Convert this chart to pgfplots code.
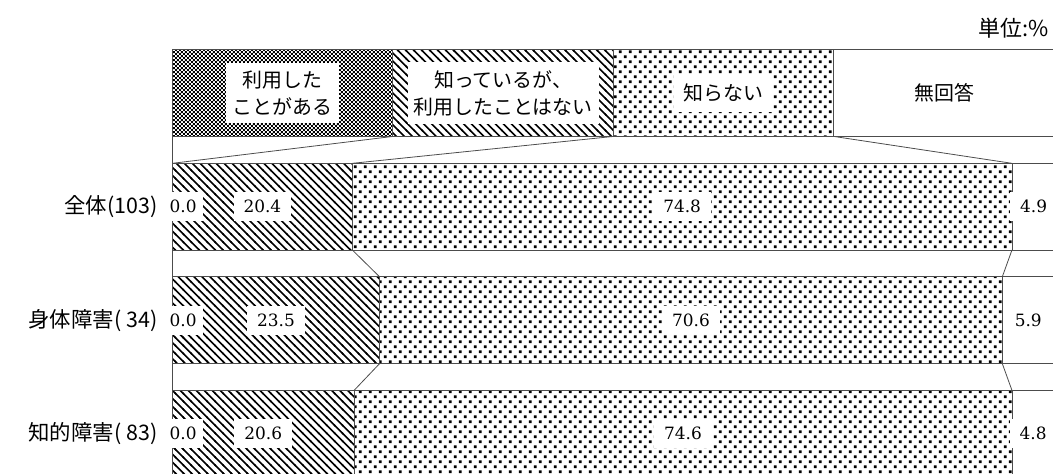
\documentclass[border=0pt]{standalone}
\usepackage{fontspec}
\setmainfont{DejaVu Serif}
\newfontfamily\jp{Noto Sans CJK JP}
\usepackage{pgfplots}
\pgfplotsset{compat=1.18}
\usepackage{pgfplotstable}
\usetikzlibrary{patterns}

\pgfdeclarepatternformonly{checker}{\pgfpointorigin}{\pgfpoint{4pt}{4pt}}{\pgfpoint{4pt}{4pt}}{%
  \pgfpathrectangle{\pgfpointorigin}{\pgfpoint{2pt}{2pt}}%
  \pgfpathrectangle{\pgfpoint{2pt}{2pt}}{\pgfpoint{2pt}{2pt}}%
  \pgfusepath{fill}}
\pgfdeclarepatternformonly{nwlines}{\pgfpoint{-1pt}{-1pt}}{\pgfpoint{9pt}{9pt}}{\pgfpoint{8pt}{8pt}}{%
  \pgfsetlinewidth{1.6pt}%
  \pgfpathmoveto{\pgfpoint{-1pt}{9pt}}\pgfpathlineto{\pgfpoint{9pt}{-1pt}}%
  \pgfusepath{stroke}}
\pgfdeclarepatternformonly{sqdots}{\pgfpointorigin}{\pgfpoint{10pt}{10pt}}{\pgfpoint{10pt}{10pt}}{%
  \pgfpathrectangle{\pgfpoint{1pt}{1pt}}{\pgfpoint{2.7pt}{2.7pt}}%
  \pgfpathrectangle{\pgfpoint{6pt}{6pt}}{\pgfpoint{2.7pt}{2.7pt}}%
  \pgfusepath{fill}}

\pgfplotstableread{
y a b c d
3 25 25 25 25
2 0.0 20.4 74.8 4.9
1 0.0 23.5 70.6 5.9
0 0.0 20.6 74.6 4.8
}\datatable

\pgfplotsset{
  base/.style={scale only axis, width=1057pt, height=475pt,
    xmin=-19.537, xmax=99.83, ymin=-0.3465, ymax=3.820,
    enlargelimits=false},
  segstyle/.style={draw=black!70, line width=0.8pt},
  conn/.style={black!70, line width=0.8pt},
  vallab/.style={
    point meta=explicit, draw=none, restrict y to domain=-0.5:2.5,
    nodes near coords={\pgfmathprintnumber[fixed,fixed zerofill,precision=1]{\pgfplotspointmeta}},
    nodes near coords align=center,
    every node near coord/.style={anchor=center, fill=white, inner xsep=10pt, inner ysep=8pt,
      font=\fontsize{17}{20}\selectfont}},
  /pgf/number format/assume math mode=true,
}

\begin{document}
\begin{tikzpicture}
\begin{axis}[base, xbar stacked, bar width=87pt,
  axis line style={draw=none}, xtick=\empty, ytick={0,1,2},
  yticklabels={{知的障害( 83)},{身体障害( 34)},{全体(103)}},
  major tick length=0pt,
  yticklabel style={font=\jp\fontsize{21.5}{24}\selectfont, anchor=east, inner sep=0pt, xshift=158pt}]
\addplot[segstyle, pattern=checker] table[x=a, y=y]{\datatable};
\addplot[segstyle, pattern=nwlines] table[x=b, y=y]{\datatable};
\addplot[segstyle, pattern=sqdots] table[x=c, y=y]{\datatable};
\addplot[segstyle, fill=white] table[x=d, y=y]{\datatable};
\end{axis}
\begin{axis}[base, hide axis, clip=false]
% connectors between legend and bars
\addplot[conn] coordinates {(0,2.6184) (0,2.3816)};
\addplot[conn] coordinates {(25,2.6184) (0,2.3816)};
\addplot[conn] coordinates {(50,2.6184) (20.4,2.3816)};
\addplot[conn] coordinates {(75,2.6184) (95.2,2.3816)};
\addplot[conn] coordinates {(0,1.6184) (0,1.3816)};
\addplot[conn] coordinates {(20.4,1.6184) (23.5,1.3816)};
\addplot[conn] coordinates {(95.2,1.6184) (94.1,1.3816)};
\addplot[conn] coordinates {(0,0.6184) (0,0.3816)};
\addplot[conn] coordinates {(23.5,0.6184) (20.6,0.3816)};
\addplot[conn] coordinates {(94.1,0.6184) (95.2,0.3816)};
% value labels
\addplot[vallab, every node near coord/.append style={anchor=west, inner xsep=6pt, xshift=-9pt}]
  table[x=a, y=y, meta=a]{\datatable};
\addplot[vallab] table[x expr=\thisrow{a}+\thisrow{b}/2, y=y, meta=b]{\datatable};
\addplot[vallab] table[x expr=\thisrow{a}+\thisrow{b}+\thisrow{c}/2, y=y, meta=c]{\datatable};
\addplot[vallab] table[x expr=\thisrow{a}+\thisrow{b}+\thisrow{c}+\thisrow{d}/2, y=y, meta=d]{\datatable};
% legend texts
\node[fill=white, align=center, inner xsep=7pt, inner ysep=8pt, font=\jp\fontsize{20}{27}\selectfont]
  at (axis cs:12.5,3) {利用した\\ことがある};
\node[fill=white, align=center, inner xsep=6pt, inner ysep=8pt, font=\jp\fontsize{20}{27}\selectfont]
  at (axis cs:37.5,3) {知っているが、\\利用したことはない};
\node[fill=white, align=center, inner xsep=10pt, inner ysep=10pt, font=\jp\fontsize{20}{24}\selectfont]
  at (axis cs:62.5,3) {知らない};
\node[align=center, font=\jp\fontsize{20}{24}\selectfont]
  at (axis cs:87.5,3) {無回答};
\node[anchor=east, font=\jp\fontsize{22}{24}\selectfont, inner sep=0pt]
  at (rel axis cs:0.996,0.941) {単位:\%};
\end{axis}
\end{tikzpicture}
\end{document}
